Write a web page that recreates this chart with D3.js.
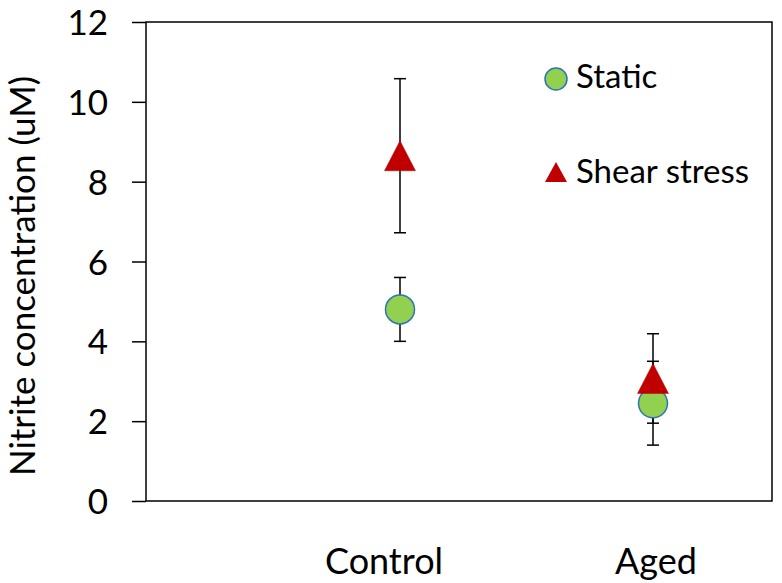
<!DOCTYPE html>
<html><head><meta charset="utf-8">
<script src="https://cdn.jsdelivr.net/npm/d3@7"></script>
<style>body{margin:0;background:#fff;} svg{display:block;font-family:Lato, "Open Sans", sans-serif;}</style>
</head><body>
<svg id="c" width="782" height="583"></svg>
<script>
const categories = ["Control", "Aged"];
const staticValues = [4.8, 2.45];
const staticErrors = [0.8, 1.05];
const shearValues = [8.65, 3.07];
const shearErrors = [1.93, 1.12];
const yTicks = [0, 2, 4, 6, 8, 10, 12];
const seriesNames = ["Static", "Shear stress"];

const svg = d3.select("#c");
const L = 146, R = 772, T = 22, B = 501;
const y = d3.scaleLinear().domain([0, 12]).range([B, T]);
const x = d3.scalePoint().domain(categories).range([400, 653]);

svg.append("rect").attr("x", L).attr("y", T).attr("width", R - L).attr("height", B - T)
  .attr("fill", "none").attr("stroke", "#000").attr("stroke-width", 1.5);

const yAxis = d3.axisLeft(y).tickValues(yTicks).tickSize(14).tickPadding(24).tickFormat(d3.format("d"));
const gy = svg.append("g").attr("transform", `translate(${L},0)`).call(yAxis);
gy.select(".domain").remove();
gy.selectAll(".tick line").attr("stroke", "#000").attr("stroke-width", 1.5);
gy.selectAll(".tick text").attr("font-size", 35).attr("fill", "#000")
  .attr("font-family", "Lato, sans-serif").attr("dy", "0.36em");

const labelOffset = {"Control": -16, "Aged": 3};
svg.selectAll(".cat").data(categories).enter().append("text")
  .attr("x", d => x(d) + labelOffset[d]).attr("y", 574)
  .attr("text-anchor", "middle").attr("font-size", 36).attr("fill", "#000").text(d => d);

svg.append("text").attr("transform", "translate(35,276) rotate(-90)")
  .attr("text-anchor", "middle").attr("font-size", 35).attr("fill", "#000")
  .text("Nitrite concentration (uM)");

function errBars(vals, errs) {
  const g = svg.append("g").attr("stroke", "#000").attr("stroke-width", 1.5);
  categories.forEach((c, i) => {
    const cx = x(c);
    g.append("line").attr("x1", cx).attr("x2", cx).attr("y1", y(vals[i] + errs[i])).attr("y2", y(vals[i] - errs[i]));
    [vals[i] + errs[i], vals[i] - errs[i]].forEach(v => {
      g.append("line").attr("x1", cx - 6).attr("x2", cx + 6).attr("y1", y(v)).attr("y2", y(v));
    });
  });
}
errBars(staticValues, staticErrors);
errBars(shearValues, shearErrors);

const tri = (cx, cy, w, h) => `M${cx},${cy - h / 2}L${cx + w / 2},${cy + h / 2}L${cx - w / 2},${cy + h / 2}Z`;

svg.selectAll(".st").data(categories).enter().append("circle")
  .attr("cx", d => x(d)).attr("cy", (d, i) => y(staticValues[i])).attr("r", 14.5)
  .attr("fill", "#92D050").attr("stroke", "#2E75B6").attr("stroke-width", 1.5);

svg.selectAll(".sh").data(categories).enter().append("path")
  .attr("d", (d, i) => tri(x(d), y(shearValues[i]), 31, 30))
  .attr("fill", "#C00000").attr("stroke", "#C00000").attr("stroke-width", 0.5);

const lg = svg.append("g");
lg.append("circle").attr("cx", 556).attr("cy", 79).attr("r", 11)
  .attr("fill", "#92D050").attr("stroke", "#2E75B6").attr("stroke-width", 1.5);
lg.append("path").attr("d", tri(556, 172, 22, 20)).attr("fill", "#C00000");
lg.selectAll("text").data(seriesNames).enter().append("text")
  .attr("x", 576).attr("y", (d, i) => i === 0 ? 88 : 183)
  .attr("font-size", 33).attr("fill", "#000").text(d => d);
</script>
</body></html>
